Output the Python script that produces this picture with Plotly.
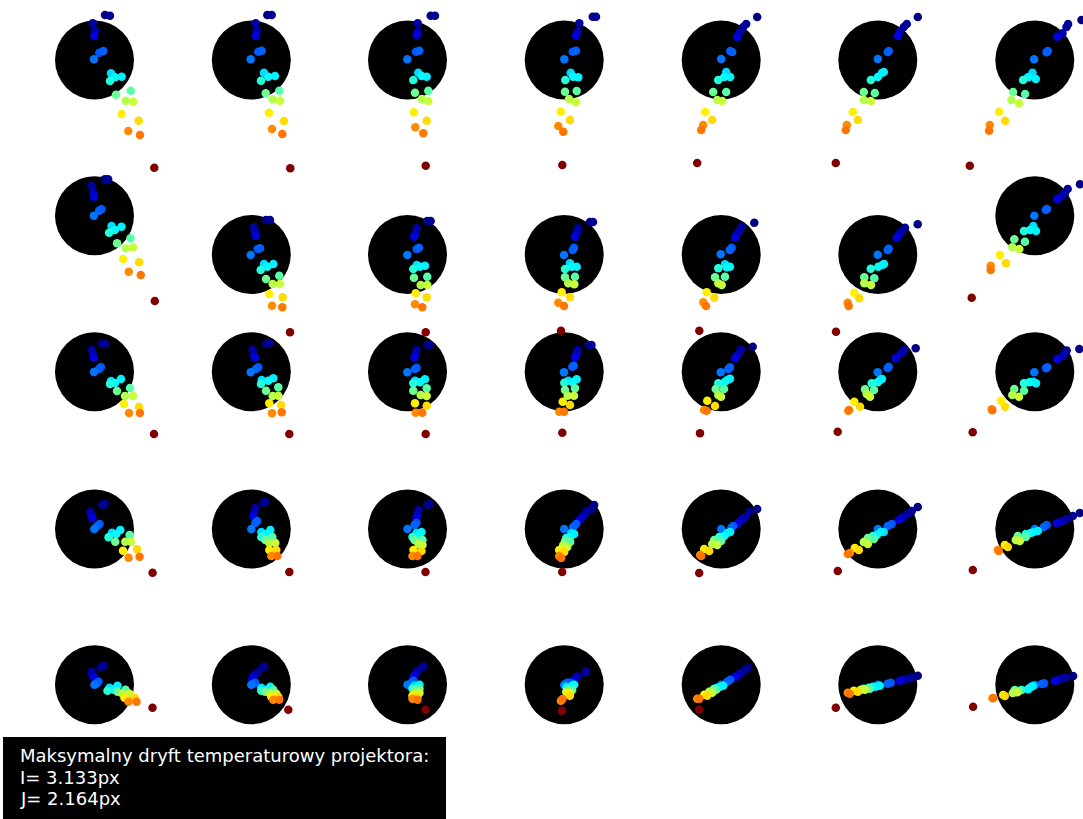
import plotly.graph_objects as go

# Measurement times (normalised) -> jet colour of each spot
TIMES = [0.0, 0.02, 0.03, 0.05, 0.09, 0.21, 0.22, 0.24, 0.34, 0.36, 0.37,
         0.41, 0.48, 0.46, 0.55, 0.57, 0.64, 0.66, 0.74, 0.76, 1.0]

# Reference (circle) positions of the 5 x 7 calibration grid, in image px
COL_X = [94.5, 251.3, 407.5, 564.2, 721.2, 877.8, 1034.8]
ROW_Y = [
    [60.0, 60.0, 60.0, 60.0, 60.0, 60.0, 60.0],
    [215.8, 254.5, 254.5, 254.5, 254.5, 254.5, 215.8],
    [371.7, 371.7, 371.7, 371.7, 371.7, 371.7, 371.7],
    [529.0, 529.0, 529.0, 529.0, 529.0, 529.0, 529.0],
    [684.7, 684.7, 684.7, 684.7, 684.7, 684.7, 684.7],
]

# Spot drift (dx, dy) relative to reference, per row, per column, per time
ROW1 = [
    [(10.5,-45),(15.5,-44.3),(-1.8,-36.7),(0.5,-29.3),(-0.2,-24),(4.8,-7.3),(8.8,-9),(-0.5,-0.7),(16.5,13.3),(27.2,16.7),(20.5,17.3),(15.5,21),(21.5,34.7),(36.2,30.7),(31.2,40.7),(38.8,41.7),(27.2,54),(44.2,60.7),(33.8,71),(45.5,75),(59.8,107.7)],
    [(16,-45),(20.4,-45),(4.4,-36.7),(5.4,-29.3),(4.4,-24),(7,-8.3),(10.4,-9.3),(-0.6,-0.7),(12.7,12.7),(23.7,16),(17,16.7),(9.7,20.7),(14.4,33.3),(28,30.7),(21.4,39.3),(28.7,40.7),(17.7,52.7),(32.7,61),(20.7,69),(31,74),(39,108.3)],
    [(23.2,-44.3),(27.5,-44.3),(10.2,-36.7),(10.2,-28.3),(9.2,-25),(8.5,-8.3),(11.8,-9.3),(-0.2,-0.7),(10.8,12.7),(19.2,16.7),(14.2,16),(5.8,20),(7.5,32.7),(20.8,30.7),(14.2,39),(20.8,41),(6.5,52.3),(19.2,60.7),(7.8,67.3),(15.8,73.3),(18.2,105.7)],
    [(28.5,-43.3),(31.8,-43.3),(15.1,-36.7),(13.5,-28.3),(11.8,-24.3),(8.5,-8.3),(11.8,-9.3),(0.1,-0.7),(6.5,12.7),(14.1,17.3),(9.1,16.7),(1.1,20),(0.8,31.7),(12.5,31),(4.8,39),(11.8,42.3),(-3.5,51.7),(5.8,60),(-5.9,66),(-0.9,71.7),(-1.9,105)],
    [(36,-43),(25,-36),(22,-33),(18,-27),(16,-23),(9,-9),(11,-8),(0,-1),(5,12),(9,17),(3,17),(-3,20),(-8,32),(5,32),(-4,40),(1,41),(-16,52),(-9,60),(-18,65),(-20,70),(-24,103)],
    [(40,-43),(29,-36),(26,-33),(22,-28),(20,-24),(11,-9),(10,-8),(0,-1),(4,13),(6,12),(0,17),(-7,20),(-14,32),(-3,33),(-14,40),(-7,41),(-25,52),(-20,60),(-31,65),(-32,70),(-42,103)],
    [(46.7,-40),(33.3,-36),(31.7,-33),(27.7,-26.7),(22.3,-23.3),(11.7,-7.7),(13,-9),(-0.7,-0.7),(-2.3,12.7),(1,19),(-6.7,17.3),(-11.7,20),(-21.7,32),(-9.7,34),(-23.3,40),(-15.7,43.3),(-35.7,51.7),(-29.7,60.7),(-45,65),(-45.7,70.7),(-65,105.7)],
]
ROW2 = [
    [(10.3,-36.5),(13.6,-36.5),(-3,-29.8),(-1.4,-23.1),(-0.4,-19.1),(7,-6.5),(4.6,-5.1),(-0.7,-0.1),(17,10.2),(27,10.9),(20.3,14.2),(14.6,16.9),(22.6,27.5),(36,22.5),(31.3,32.5),(38.6,31.5),(28.6,43.2),(44.6,46.5),(34.3,55.9),(46.3,59.2),(60.3,85.2)],
    [(14.7,-34.5),(18.7,-34.5),(2.7,-27.2),(3.7,-22.5),(4.4,-18.8),(6.4,-5.5),(8.7,-6.2),(-0.6,0.5),(12.7,9.5),(22,9.5),(16,12.2),(9.4,15.5),(14.7,24.5),(28,21.2),(21.4,29.5),(28.7,29.5),(18,39.5),(31.4,42.8),(20.7,51.2),(31,52.8),(38.7,77.8)],
    [(19.8,-33.5),(23.2,-33.5),(9.2,-26.2),(8.5,-21.2),(6.5,-17.8),(9.2,-5.5),(11.5,-6.8),(-0.2,0.5),(9.2,10.5),(17.5,11.2),(12.5,12.2),(5.8,14.5),(6.5,23.2),(19.8,22.2),(13.2,30.5),(19.8,30.5),(8.2,38.8),(19.2,42.8),(7.5,49.8),(14.8,52.8),(18.2,77.8)],
    [(25.8,-32.5),(28.8,-32.5),(14.1,-26.2),(12.5,-21.8),(10.8,-17.8),(9.8,-6.8),(8.5,-4.5),(-0.2,0.5),(5.8,8.8),(12.5,12.2),(7.5,12.2),(0.8,14.5),(0.8,22.8),(10.8,22.2),(4.1,28.8),(10.1,29.8),(-2.5,37.8),(5.8,42.8),(-5.9,48.2),(-0.2,51.5),(-3.2,76.2)],
    [(33.1,-31.8),(20.5,-27.8),(18.8,-24.5),(15.8,-20.5),(13.8,-16.8),(10.5,-6.8),(8.5,-4.5),(-0.5,-0.2),(3.8,9.8),(8.8,12.2),(5.5,12.8),(-2.9,13.8),(-6.2,22.8),(3.8,22.2),(-2.9,28.8),(0.5,30.5),(-14.5,37.8),(-6.9,43.2),(-17.9,47.8),(-15.2,51.5),(-21.9,76.2)],
    [(39.9,-30.2),(27.2,-26.8),(24.2,-23.8),(21.5,-20.5),(18.9,-16.8),(10.9,-6),(9.9,-4.5),(-0.1,0.2),(4.5,10.5),(6.2,9.5),(0.5,12.2),(-7.1,14.2),(-13.5,22.8),(-3.5,23.8),(-13.5,28.8),(-6.8,30.5),(-23.5,38.2),(-18.5,43.8),(-30.1,48.2),(-29.1,51.5),(-41.8,77.2)],
    [(45.2,-31.5),(32.9,-26.8),(30.2,-23.1),(26.9,-19.8),(22.5,-16.8),(10.9,-5.8),(12.2,-6.8),(-0.5,-0.1),(-1.5,10.2),(1.2,15.2),(-4.8,14.2),(-10.8,15.2),(-20.5,23.5),(-9.8,25.9),(-22.5,31.5),(-15.5,33.2),(-34.8,39.2),(-28.8,47.5),(-44.1,49.9),(-44.1,54.2),(-63.1,81.9)],
]
ROW3 = [
    [(7.5,-27.7),(10.5,-27.7),(-2.5,-21.7),(-1.5,-16.7),(-0.5,-13.7),(6.5,-4.7),(4.5,-2.7),(-0.5,0.3),(16.5,9.3),(26.5,7.3),(20.5,11.3),(15.5,12.3),(22.5,19.3),(35.5,16.3),(30.5,24.3),(38.5,24.3),(29.5,32.3),(44.5,35.3),(34.5,41.3),(45.5,41.3),(59.5,62.3)],
    [(14.7,-27.7),(18,-28.4),(1.4,-21.7),(3,-15.7),(3.7,-14),(7,-4.4),(4.7,-2.7),(-0.6,0.6),(10.4,8.3),(22,6.6),(17,9),(9.7,12.3),(14.7,19),(27,15.6),(21.4,24.3),(27,24),(18,31.6),(29.7,33.3),(20.7,41.6),(30.4,40.6),(38,62.3)],
    [(19.8,-26.7),(22.5,-26.7),(9.2,-21.7),(8.2,-17.4),(6.8,-14),(9.2,-4),(7.5,-2.7),(-0.2,0.6),(7.5,9),(17.5,7.6),(12.5,10.6),(5.8,11.6),(5.8,19),(19.2,16.6),(13.2,23.3),(19.2,24.3),(7.5,31.6),(19.2,34),(8.2,41),(14.8,41),(18.2,62.3)],
    [(24.3,-26.7),(27.3,-26.7),(13.5,-21.7),(12.5,-18.4),(10.8,-14.4),(8.1,-5),(9.5,-6),(-0.2,0.6),(4.1,9),(12.5,7.6),(8.5,10.6),(0.1,11),(0.8,18.3),(10.8,16.6),(3.5,24),(9.8,24),(-1.5,30),(5.8,33.3),(-4.9,40),(-0.2,40),(-1.9,61)],
    [(31.5,-25),(19.8,-22.2),(18.8,-20.7),(16.1,-16.7),(13.8,-13.4),(8.8,-4.4),(7.1,-2.7),(-0.5,0.6),(6.1,8.3),(8.8,7),(3.8,10),(-2.9,11.6),(-5.5,17.3),(2.8,17.3),(-2.9,23.3),(-0.2,25),(-13.9,29),(-6.2,34.3),(-17.2,38.3),(-14.5,39),(-21.2,61.6)],
    [(37.9,-23.4),(26.5,-22.2),(25.5,-20.7),(22.9,-17.7),(17.9,-13.4),(10.9,-5),(9.9,-3.7),(-0.1,0.6),(2.2,8.3),(4.2,7.3),(-0.1,10.6),(-6.1,11.6),(-12.8,17.6),(-3.8,18.3),(-11.1,22.3),(-7.8,25),(-23.5,30),(-17.8,35),(-29.5,39),(-28.8,38.3),(-40.1,60)],
    [(44.5,-22.7),(31.9,-21.2),(30.9,-20),(28.5,-16.7),(22.5,-12.7),(11.2,-3.4),(12.5,-4.4),(-0.5,0.6),(-1.5,10),(1.2,11.6),(-5.5,10.6),(-10.8,11.6),(-20.5,17.3),(-10.8,19),(-22.5,23.3),(-15.8,25),(-33.8,29),(-29.8,35),(-43.1,37.6),(-42.5,38.6),(-62.1,60.6)],
]
ROW4 = [
    [(7.5,-24),(10.1,-25.3),(-4.2,-17.3),(-3.2,-14),(-2.2,-10.7),(5.1,-5),(2.8,-3),(-0.2,0),(17.5,3.7),(25.8,1),(21.8,5),(14.1,8.3),(20.8,12.7),(35.1,6),(30.8,12.7),(36.5,12.7),(28.5,21.7),(42.5,20.3),(34.1,28.7),(45.1,27.7),(58.1,43.7)],
    [(12,-26),(14,-27),(4,-21),(3,-17),(2,-13),(6,-8),(4,-6),(0,0),(10,3),(19,1),(15,5),(10,8),(14,11),(21,8),(18,14),(24,14),(18,21),(25,21),(20,27),(26,27),(38,43)],
    [(20,-24),(22,-25),(11,-19),(10,-15),(9,-11),(9,-6),(7,-4),(0,0),(9,4),(14,3),(12,6),(5,8),(7,11),(15,11),(11,15),(15,16),(6,21),(14,22),(5,27),(10,27),(18,43)],
    [(30,-24),(27,-20),(22,-17),(19,-13),(16,-10),(12,-5),(9,-2),(0,0),(7,4),(10,5),(6,8),(2,9),(1,12),(6,13),(-1,16),(3,18),(-5,21),(0,23),(-5,27),(-3,29),(-2,43)],
    [(36,-20),(28,-17),(24,-12),(20,-9),(17,-6),(12,-3),(10,-1),(0,0),(6,4),(9,3),(3,7),(-2,8),(-7,11),(0,12),(-9,15),(-4,16),(-17,20),(-12,22),(-21,26),(-20,27),(-22,44)],
    [(40,-22),(34,-18),(30,-15),(25,-12),(21,-9),(14,-5),(10,-3),(0,0),(6,3),(3,3),(-1,6),(-5,7),(-10,9),(-4,10),(-14,13),(-10,15),(-23,19),(-19,21),(-28,24),(-30,25),(-40,42)],
    [(45,-16),(38,-13),(32,-10),(27,-8),(22,-6),(12,-4),(9,-2),(0,0),(-1,3),(3,2),(-4,4),(-9,5),(-17,7),(-9,8),(-19,11),(-15,12),(-30,16),(-27,18),(-37,21),(-36,22),(-62,41)],
]
ROW5 = [
    [(6,-17),(9,-19),(-3,-13),(-2,-9),(0,-7),(4,-3),(2,-1),(0,0),(15,3),(23,1),(19,5),(13,6),(23,7),(31,5),(28,9),(35,9),(30,13),(40,13),(34,17),(42,17),(58,23)],
    [(11,-17),(13,-18),(6,-12),(2,-9),(1,-6),(4,-2),(2,-1),(0,0),(10,3),(19,2),(15,5),(10,6),(14,7),(22,5),(19,9),(25,9),(20,12),(27,12),(22,15),(28,15),(37,25)],
    [(14,-17),(16,-18),(10,-14),(8,-11),(6,-8),(6,-4),(4,-2),(0,0),(7,1),(12,0),(10,3),(5,4),(8,5),(12,4),(8,8),(12,8),(5,11),(10,12),(5,14),(10,15),(18,25)],
    [(21,-12.3),(22,-13.5),(13,-8.5),(11.7,-6.3),(9,-4),(6,-2),(3,-2),(0,0),(2,2),(7.7,1),(10,0),(3,4),(5,6),(8,5.3),(2,7),(6,8),(3.3,9.3),(5.7,11),(-3.3,16),(-1.7,14.3),(-2.3,26)],
    [(27,-17),(24,-15),(20,-12),(17,-10),(14,-8),(9,-5),(6,-3),(0,0),(-1,2),(2,1),(-4,3),(-7,4),(-8,5),(-5,5),(-12,7),(-9,8),(-17,10),(-14,11),(-24,14),(-22,14),(-22,25)],
    [(40,-9),(34,-7),(30,-6),(26,-5),(22,-4),(13,-2),(10,-1),(0,0),(-2,2),(2,1),(-5,2),(-9,3),(-14,4),(-8,4),(-17,5),(-13,5),(-24,6),(-20,7),(-30,8),(-28,9),(-42,23)],
    [(38.3,-8.7),(31,-7.2),(28.3,-6.4),(23,-4.7),(20,-4),(9.3,-1.4),(7,-0.7),(0,0.3),(-4.3,2.6),(-2,1.3),(-6.7,4.6),(-13.3,5.3),(-20,5.3),(-16,6.3),(-22,8.3),(-17.7,7.6),(-31.7,10.3),(-30,11.3),(-42.3,13.6),(-41.5,13.3),(-61.7,22)],
]
ROWS = [ROW1, ROW2, ROW3, ROW4, ROW5]

INFO_LINES = ["Maksymalny dryft temperaturowy projektora:", "I= 3.133px", "J= 2.164px"]

W, H = 1083, 819
JET = [[0.0, "rgb(0,0,128)"], [0.125, "rgb(0,0,255)"], [0.375, "rgb(0,255,255)"],
       [0.625, "rgb(255,255,0)"], [0.875, "rgb(255,0,0)"], [1.0, "rgb(128,0,0)"]]

fig = go.Figure()

# reference circles
cx_all, cy_all = [], []
for r in range(5):
    for c in range(7):
        cx_all.append(COL_X[c])
        cy_all.append(ROW_Y[r][c])
fig.add_trace(go.Scatter(x=cx_all, y=cy_all, mode="markers",
                         marker=dict(size=79, color="black", line=dict(width=0)),
                         hoverinfo="skip", showlegend=False))

# drifting spots
for r, row in enumerate(ROWS):
    for c, pts in enumerate(row):
        xs = [COL_X[c] + p[0] for p in pts]
        ys = [ROW_Y[r][c] + p[1] for p in pts]
        fig.add_trace(go.Scatter(
            x=xs, y=ys, mode="markers",
            marker=dict(size=8.5, color=TIMES, colorscale=JET, cmin=0, cmax=1,
                        line=dict(width=0)),
            showlegend=False))

fig.add_shape(type="rect", xref="paper", yref="paper",
              x0=3 / W, x1=446 / W, y0=-0.02, y1=1 - 737 / H,
              fillcolor="black", line=dict(width=0), layer="above")
for k, line in enumerate(INFO_LINES):
    fig.add_annotation(xref="paper", yref="paper", x=18 / W,
                       y=1 - (743 + 21.7 * k) / H,
                       xanchor="left", yanchor="top", align="left", showarrow=False,
                       text=line,
                       font=dict(family="DejaVu Sans", size=18, color="white"))

fig.update_layout(
    width=W, height=H, margin=dict(l=0, r=0, t=0, b=0),
    plot_bgcolor="white", paper_bgcolor="white",
    xaxis=dict(range=[0, W], visible=False, fixedrange=True),
    yaxis=dict(range=[H, 0], visible=False, fixedrange=True),
)

fig.write_html("out.html", config={"displayModeBar": False},
               post_script="document.body.style.margin='0';document.body.style.overflow='hidden';")
